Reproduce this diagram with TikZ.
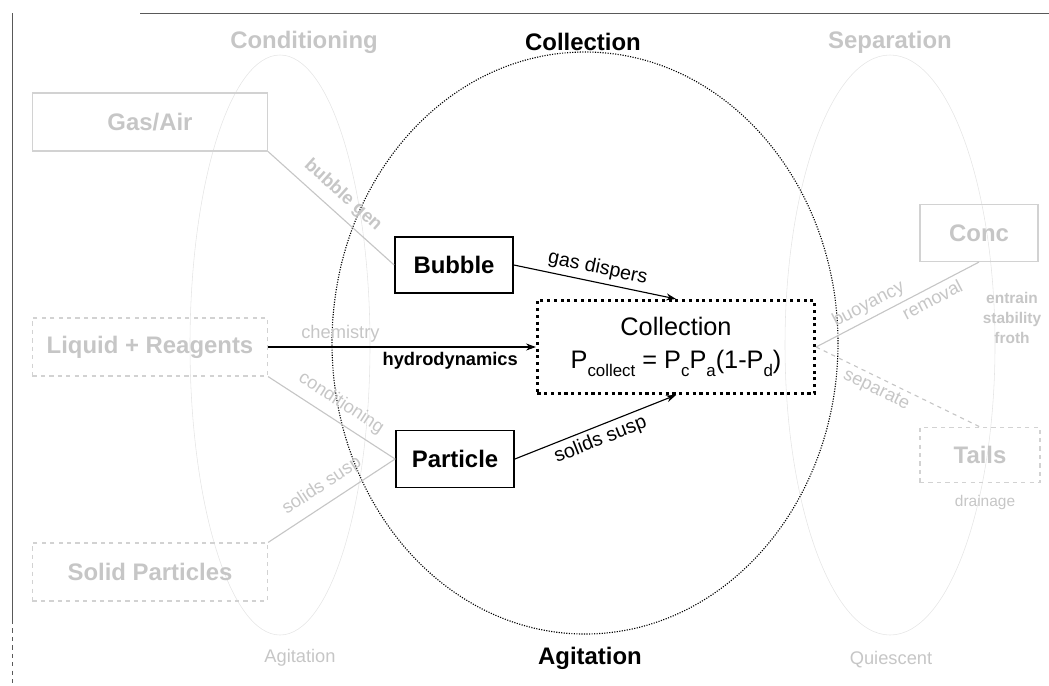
\documentclass[tikz,border=0pt]{standalone}
\usepackage{fontspec}
\setmainfont{Liberation Sans}
\usetikzlibrary{arrows.meta}
\begin{document}
\begin{tikzpicture}[x=0.025cm, y=-0.025cm,
    big/.style={font=\bfseries\fontsize{17}{20}\selectfont},
    faint/.style={gray!45},
    stagebox/.style={draw, very thick, minimum width=2.95cm, minimum height=1.4cm, big},
    feedbox/.style={draw=gray!35, thick, minimum width=5.875cm, minimum height=1.45cm, big, text=gray!45},
    lab/.style={font=\fontsize{13}{15}\selectfont, inner sep=1pt},
    flow/.style={-{Stealth[length=7pt,width=5pt]}, thick}]
    \useasboundingbox (0,0) rectangle (1049,685);

    % frame
    \draw[semithick, gray!70!black] (140,13) -- (1049,13);
    \draw[semithick, gray!70!black] (12,13) -- (12,620);
    \draw[semithick, gray!70!black, dashed] (12,620) -- (12,685);

    % faint stage regions
    \draw[gray!20] (280,345) ellipse [x radius=90, y radius=290];
    \draw[gray!20] (890,345) ellipse [x radius=105, y radius=290];
    \draw[densely dotted, thick] (585,343) ellipse [x radius=253, y radius=291];

    % titles
    \node[big, faint] (tcond) at (304,42) {Conditioning};
    \node[big] (tcoll) at (583,42) {Collection};
    \node[big, faint] (tsep) at (890,42) {Separation};
    \node[big] (tagit) at (590,658) {Agitation};
    \node[faint, font=\fontsize{13}{15}\selectfont] (tagit2) at (300,658) {Agitation};
    \node[faint, font=\fontsize{13}{15}\selectfont] (tquiet) at (891,660) {Quiescent};

    % feeds
    \node[feedbox] (gas) at (150,122) {Gas/Air};
    \node[feedbox, dashed] (liquid) at (150,347) {Liquid + Reagents};
    \node[feedbox, dashed] (solid) at (150,572) {Solid Particles};

    % products
    \node[feedbox, minimum width=2.95cm, minimum height=1.425cm] (conc) at (979,233) {Conc};
    \node[feedbox, dashed, minimum width=3cm, minimum height=1.375cm] (tails) at (980,455) {Tails};
    \node[faint, font=\fontsize{11}{13}\selectfont] (drain) at (985,502) {drainage};
    \node[faint, font=\bfseries\fontsize{11}{14}\selectfont, align=center] (froth) at (1012,318)
        {entrain\\stability\\froth};

    % collection zone
    \node[stagebox] (bubble) at (454,265) {Bubble};
    \node[stagebox, minimum height=1.425cm] (particle) at (455,459) {Particle};
    \node[draw, line width=2.2pt, dash pattern=on 2.2pt off 2.6pt, minimum width=6.925cm,
        minimum height=2.325cm, align=center, font=\fontsize{18}{24}\selectfont] (coll) at (676,347)
        {Collection\\P\raisebox{-0.6ex}{\fontsize{12}{12}\selectfont collect} = P\raisebox{-0.6ex}{\fontsize{12}{12}\selectfont c}P\raisebox{-0.6ex}{\fontsize{12}{12}\selectfont a}(1-P\raisebox{-0.6ex}{\fontsize{12}{12}\selectfont d})};

    % faint links
    \draw[faint, thick] (gas.south east) -- node[lab, sloped, above=5pt, font=\bfseries\fontsize{13}{15}\selectfont] {bubble gen} (bubble.west);
    \draw[faint, thick] (liquid.south east) -- node[lab, sloped, above=5pt] {conditioning} (particle.west);
    \draw[faint, thick] (solid.north east) -- node[lab, sloped, above=5pt] {solids susp} (particle.west);
    \draw[faint, thick] (coll.east) -- node[lab, sloped, above=2pt, pos=0.36] {buoyancy}
        node[lab, sloped, below=2pt, pos=0.68] {removal} (conc.south);
    \draw[faint, thick, dashed] (coll.east) -- node[lab, sloped, below=2pt, pos=0.4] {separate} (tails.north);

    % main links
    \draw[flow] (bubble.east) -- node[lab, sloped, above=2pt, font=\fontsize{14}{16}\selectfont] {gas dispers} (coll.north);
    \draw[flow] (particle.east) -- node[lab, sloped, below=2pt, font=\fontsize{14}{16}\selectfont] {solids susp} (coll.south);
    \draw[flow] (liquid.east) -- node[lab, faint, above=2pt, pos=0.27] {chemistry}
        node[lab, below=2pt, pos=0.68, font=\bfseries\fontsize{13}{15}\selectfont] {hydrodynamics} (coll.west);
\end{tikzpicture}
\end{document}
